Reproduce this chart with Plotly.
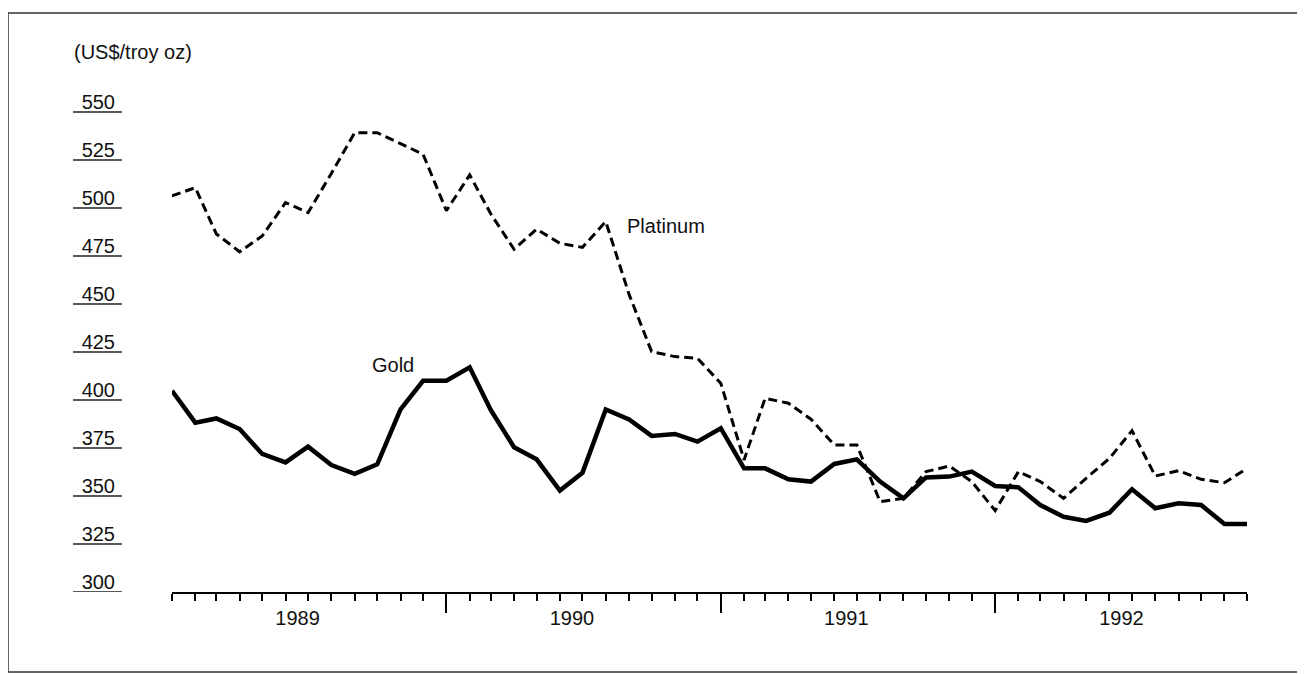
import plotly.graph_objects as go

# ---------------- data ----------------
years = [1989, 1990, 1991, 1992]
months = [f"{y}-{m:02d}-01" for y in years for m in range(1, 13)]

gold = [404.8, 388.2, 390.4, 384.9, 371.9, 367.5, 375.7, 366.1, 361.5, 366.5, 395.1, 410.0,
        410.0, 417.0, 394.8, 375.4, 369.1, 352.8, 362.1, 395.1, 389.9, 381.3, 382.3, 378.3,
        385.3, 364.4, 364.4, 358.7, 357.5, 366.7, 369.1, 357.5, 348.8, 359.7, 360.1, 362.7,
        355.2, 354.5, 345.3, 339.2, 337.0, 341.3, 353.5, 343.6, 346.2, 345.3, 335.4, 335.4]

platinum = [506.3, 510.6, 486.5, 477.2, 485.4, 502.8, 497.6, 518.0, 539.2, 539.2, 533.5, 528.0,
            498.6, 517.2, 497.0, 478.5, 489.0, 481.6, 479.5, 492.9, 455.0, 425.2, 422.6, 421.7,
            408.7, 368.8, 400.9, 398.3, 390.0, 376.6, 376.6, 347.0, 348.8, 362.7, 365.6, 357.5,
            342.4, 362.7, 357.5, 348.8, 359.2, 369.6, 384.0, 360.4, 363.2, 358.7, 356.9, 364.4]

y_ticks = [300, 325, 350, 375, 400, 425, 450, 475, 500, 525, 550]
y_tick_labels = [str(v) for v in y_ticks]
year_labels = [str(y) for y in years]
year_label_pos = [f"{y}-06-17" for y in years]
year_boundaries = [f"{y}-01-01" for y in years[1:]]
unit_label = "(US$/troy oz)"

# ---------------- figure ----------------
FONT = "Liberation Sans, Arial, Helvetica, sans-serif"
TXT = "#111111"

OFF = 8  # the page body has an 8px margin
W, H = 1305 - OFF, 674 - OFF
L, T = 172 - OFF, 60 - OFF
PW, PH = 1075, 532
R = W - L - PW
B = H - T - PH
PX_PER_USD = 1.92
y_top = 300 + PH / PX_PER_USD

x_range = [months[0], months[-1]]

fig = go.Figure()
fig.add_trace(go.Scatter(
    x=months, y=gold, mode="lines", name="Gold",
    line=dict(color="black", width=4.5), showlegend=False, xaxis="x", yaxis="y"))
fig.add_trace(go.Scatter(
    x=months, y=platinum, mode="lines", name="Platinum",
    line=dict(color="black", width=3, dash="9px,5px"), showlegend=False,
    xaxis="x2", yaxis="y"))

# helpers converting reference-image pixel positions to paper coordinates
def px_x(px):
    return (px - OFF - L) / PW

def px_y(py):
    return (T + PH - (py - OFF)) / PH

shapes = []
# underlines beneath the y tick labels
for v in y_ticks:
    shapes.append(dict(type="line", xref="paper", yref="y",
                       x0=px_x(73), x1=px_x(122), y0=v, y1=v,
                       line=dict(color="#222222", width=1.6)))
# outer frame
shapes.append(dict(type="rect", xref="paper", yref="paper",
                   x0=px_x(8), x1=px_x(1300), y0=px_y(672), y1=px_y(13),
                   line=dict(color="#333333", width=1.5), layer="below"))

annotations = [
    dict(text=unit_label, xref="paper", yref="paper", x=px_x(72), y=px_y(52.5),
         xanchor="left", yanchor="middle", showarrow=False,
         font=dict(family=FONT, size=20, color=TXT)),
    dict(text="Platinum", xref="x", yref="y", x="1990-08-26", y=490.4,
         xanchor="left", yanchor="middle", showarrow=False,
         font=dict(family=FONT, size=20, color=TXT)),
    dict(text="Gold", xref="x", yref="y", x="1989-09-22", y=418.0,
         xanchor="left", yanchor="middle", showarrow=False,
         font=dict(family=FONT, size=20, color=TXT)),
]

fig.update_layout(
    width=W, height=H, autosize=False,
    margin=dict(l=L, r=R, t=T, b=B, pad=0),
    paper_bgcolor="white", plot_bgcolor="white",
    font=dict(family=FONT, size=20, color=TXT),
    showlegend=False,
    xaxis=dict(
        type="date", range=x_range, showgrid=False, zeroline=False,
        showline=True, linecolor="black", linewidth=1.8,
        tickvals=year_boundaries, ticks="outside", ticklen=19, tickwidth=1.8,
        tickcolor="black", showticklabels=False,
        minor=dict(tickvals=months, ticks="outside", ticklen=7, tickwidth=1.6,
                   tickcolor="black", showgrid=False),
    ),
    xaxis2=dict(
        type="date", range=x_range, overlaying="x", anchor="y", side="bottom",
        showgrid=False, zeroline=False, showline=False,
        tickvals=year_label_pos, ticktext=year_labels, ticks="",
        ticklabelstandoff=12,
        tickfont=dict(family=FONT, size=20, color=TXT),
    ),
    yaxis=dict(
        range=[300, y_top], showgrid=False, zeroline=False, showline=False,
        tickvals=y_ticks, ticktext=y_tick_labels, ticks="",
        ticklabelstandoff=56, ticklabelshift=-10,
        tickfont=dict(family=FONT, size=20, color=TXT),
    ),
    shapes=shapes,
    annotations=annotations,
)

fig.write_html("out.html")
